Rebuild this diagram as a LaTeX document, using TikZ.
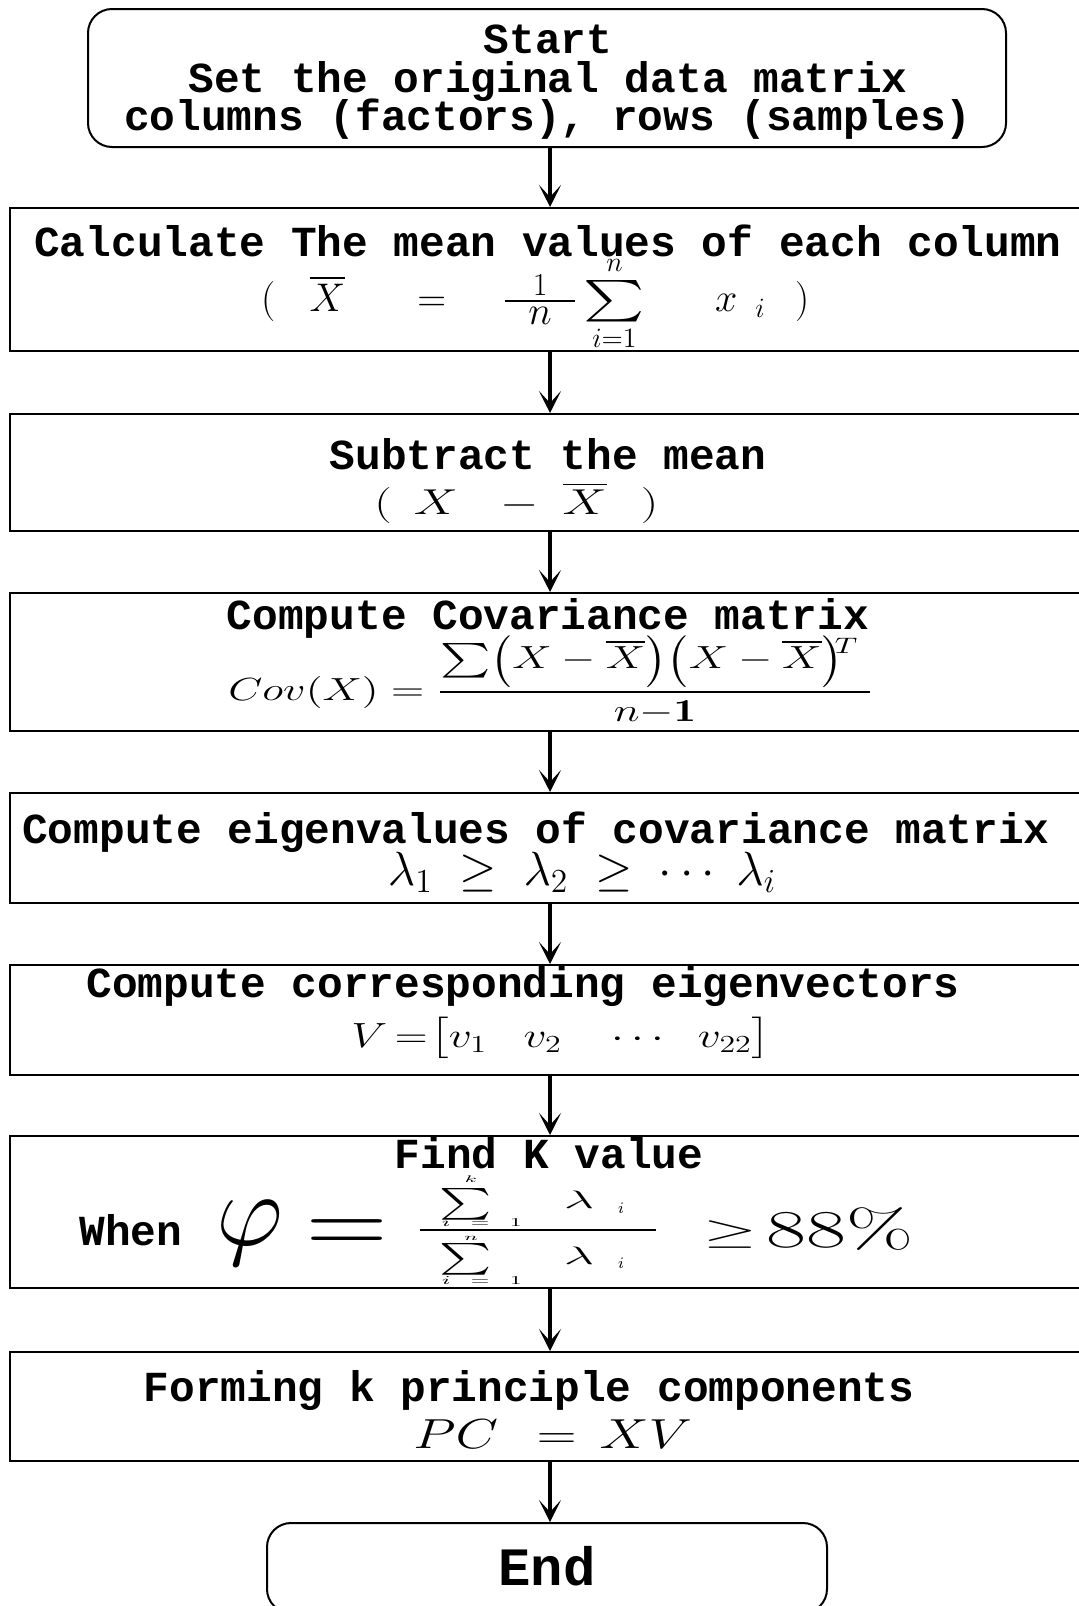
\RequirePackage{fix-cm}
\documentclass[tikz,border=0pt]{standalone}
\usepackage{amsmath}
\usepackage{graphicx}
\usepackage{fontspec}
\newfontfamily\monob{Liberation Mono}[BoldFont={Liberation Mono Bold}]
\usetikzlibrary{arrows.meta}
\newcommand\tallopen{\mathopen{\raisebox{-0.08em}{\scalebox{1}[1.25]{$\bigl($}}}}
\newcommand\tallclose{\mathclose{\raisebox{-0.08em}{\scalebox{1}[1.25]{$\bigr)$}}}}
\begin{document}
\begin{tikzpicture}[x=0.5pt,y=-0.5pt,
  box/.style={draw, line width=1pt, minimum width=540pt, inner sep=0pt, anchor=north},
  rbox/.style={draw, line width=1pt, rounded corners=12pt, inner sep=0pt, anchor=north},
  ttl/.style={font=\monob\bfseries\fontsize{21.4}{24}\selectfont, anchor=base, inner sep=0pt},
  mth/.style={font=\fontsize{22}{26}\selectfont, anchor=base west, inner sep=0pt},
  pc/.style={inner sep=0pt, font=\fontsize{14}{16}\selectfont},
  tiny/.style={inner sep=0pt, font=\fontsize{8}{9}\selectfont},
  flow/.style={line width=2pt, -{Stealth[length=11pt,width=11pt,inset=6pt]}}
]
\useasboundingbox (0,0) rectangle (1078,1606);
\fill[white] (0,0) rectangle (1078,1606);

% boxes
\node[rbox, minimum width=459pt, minimum height=69pt] (s0) at (547,8) {};
\node[box, minimum height=71.5pt] (b2) at (550,207) {};
\node[box, minimum height=58.5pt] (b3) at (550,413) {};
\node[box, minimum height=69pt] (b4) at (550,592) {};
\node[box, minimum height=55pt] (b5) at (550,792) {};
\node[box, minimum height=55pt] (b6) at (550,964) {};
\node[box, minimum height=76pt] (b7) at (550,1135) {};
\node[box, minimum height=54.5pt] (b8) at (550,1351) {};
\node[rbox, minimum width=280pt, minimum height=45pt] (e9) at (547,1522) {};

% titles
\node[ttl] (t0a) at (548,53) {Start};
\node[ttl] (t0b) at (548,92) {Set the original data matrix};
\node[ttl] (t0c) at (548,130) {columns (factors), rows (samples)};
\node[ttl] (t2) at (548,256) {Calculate The mean values of each column};
\node[ttl] (t3) at (548,469) {Subtract the mean};
\node[ttl] (t4) at (548,629) {Compute Covariance matrix};
\node[ttl] (t5) at (536,843) {Compute eigenvalues of covariance matrix};
\node[ttl] (t6) at (523,997) {Compute corresponding eigenvectors};
\node[ttl] (t7) at (549,1168) {Find K value};
\node[ttl] (t7w) at (131,1245) {When};
\node[ttl] (t8) at (529,1401) {Forming k principle components};
\node[ttl, font=\monob\bfseries\fontsize{27}{30}\selectfont] (t9) at (547,1585) {End};

% formula: mean
\node[mth, font=\fontsize{20}{24}\selectfont] (m2) at (261,311)
  {$\mbox{\fontsize{20}{22}\selectfont(}\hspace{17pt}\overline{X}\hspace{30.5pt}=\hspace{22.9pt}\frac{\hspace{12pt}\mbox{\fontsize{16}{18}\selectfont 1}\hspace{12pt}}{\hspace{11.5pt}\textstyle n\hspace{11.5pt}}\mathop{\scalebox{1.4}[1]{$\textstyle\sum$}}\limits_{i=1}^{n}\hspace{31.7pt}x\hspace{9pt}{}_{i}\hspace{15pt}\mbox{\fontsize{20}{22}\selectfont)}$};
% formula: subtract
\node[mth, font=\fontsize{18}{21}\selectfont] (m3) at (374,514)
  {\scalebox{1.37}[1]{$(\hspace{8pt}X\hspace{11.7pt}-\hspace{4.6pt}\overline{X}\hspace{12.5pt})$}};
% formula: covariance
\node[mth, font=\fontsize{16}{19}\selectfont] (m4) at (228,700)
  {\scalebox{1.38}[1]{$Cov(X)=\dfrac{\textstyle\sum\tallopen X-\overline{X}\tallclose\tallopen X-\overline{X}\tallclose^{\mskip-5mu\raisebox{-5pt}{$\scriptstyle T$}}\hspace{4pt}}{n{-}\mathbf{1}}$}};
% formula: eigenvalues
\node[mth, anchor=base, font=\fontsize{24}{28}\selectfont] (m5) at (582,885)
  {$\lambda_1\;\ge\;\lambda_2\;\ge\;\cdots\;\lambda_i$};
% formula: eigenvectors
\node[mth, font=\fontsize{17.5}{20}\selectfont] (m6) at (351,1047)
  {\scalebox{1.3}[1]{$V\mskip-2mu=\mskip-4mu\bigl[v_1\hspace{14pt}v_2\hspace{16pt}\cdots\hspace{10pt}v_{22}\bigr]$}};
% formula: K value
\node[mth, font=\fontsize{52}{56}\selectfont] (m7phi) at (216,1245) {$\varphi$};
\node[mth, font=\fontsize{49}{52}\selectfont] (m7eq) at (306,1254) {\scalebox{1.15}[1]{$=$}};
\node[pc] (f7s1) at (466,1204) {\scalebox{1.72}[1.1]{$\textstyle\sum$}};
\node[tiny] (f7k) at (471,1179) {\scalebox{1.3}[0.6]{$k$}};
\node[tiny] (f7l1) at (482,1223) {\scalebox{1.4}[0.75]{$i\hspace{5pt}=\hspace{5pt}1$}};
\node[pc] (f7la1) at (579,1200) {\scalebox{1.9}[0.9]{$\lambda$}};
\node[tiny] (f7i1) at (621,1208) {$i$};
\node[fill, minimum width=118pt, minimum height=1pt, inner sep=0pt] (f7bar) at (538,1230) {};
\node[tiny] (f7n) at (471,1238) {\scalebox{1.3}[0.6]{$n$}};
\node[pc] (f7s2) at (466,1259) {\scalebox{1.72}[1.1]{$\textstyle\sum$}};
\node[pc] (f7la2) at (579,1256) {\scalebox{1.9}[0.9]{$\lambda$}};
\node[tiny] (f7i2) at (621,1263) {$i$};
\node[tiny] (f7l2) at (482,1281) {\scalebox{1.4}[0.75]{$i\hspace{5pt}=\hspace{5pt}1$}};
\node[mth, font=\fontsize{21}{24}\selectfont] (m7ge) at (703,1243) {\scalebox{1.65}[0.85]{$\ge$}};
\node[mth, font=\fontsize{28}{32}\selectfont] (m7pc) at (766,1247) {\scalebox{1.55}[0.95]{$88\%$}};
% formula: PC
\node[mth, font=\fontsize{21}{24}\selectfont] (m8) at (413,1448)
  {\scalebox{1.31}[1]{$PC\hspace{9pt}=\hspace{3pt}XV$}};

% connectors
\draw[flow] (s0.south -| b2.north) -- (b2.north);
\draw[flow] (b2.south) -- (b3.north);
\draw[flow] (b3.south) -- (b4.north);
\draw[flow] (b4.south) -- (b5.north);
\draw[flow] (b5.south) -- (b6.north);
\draw[flow] (b6.south) -- (b7.north);
\draw[flow] (b7.south) -- (b8.north);
\draw[flow] (b8.south) -- (e9.north -| b8.south);
\end{tikzpicture}
\end{document}
